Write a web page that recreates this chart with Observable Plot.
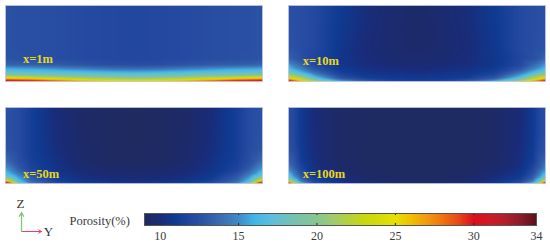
<!DOCTYPE html>
<html>
<head>
<meta charset="utf-8">
<script src="https://cdn.jsdelivr.net/npm/d3@7"></script>
<script src="https://cdn.jsdelivr.net/npm/@observablehq/plot@0.6"></script>
<style>
html,body{margin:0;padding:0;background:#fff;width:550px;height:245px;overflow:hidden}
#root{position:relative;width:550px;height:245px}
#root svg{display:block}
#legend{position:absolute;left:0;top:190px}
#triad{position:absolute;left:0;top:190px}
</style>
</head>
<body>
<div id="root"><div id="maps"></div><div id="legend"></div><div id="triad"></div></div>
<script>
// Porosity colour stops
const stopValues = [9,10,11,12,13,14,15,16,17,18,19,20,21,22,23,24,25,26,27,28,29,30,31,32,33,34];
const stopColors = ["#1e2a62","#1a2b78","#0f3b93","#2448a0","#2f5aa8","#3d70b4","#3f8ac8","#3fb6e8","#5bbde0","#6fc0c0","#7cc3a5","#88c690","#a0cb70","#b5d040","#c8d810","#d4dc0a","#e8e000","#f0c000","#f09a10","#ee7510","#e84a18","#dc0f1c","#cf1a26","#b0202c","#8a1c28","#5a1218"];

// Sampling positions across (half the section; the section is mirror-symmetric) and up the section
const across = [0,0.02,0.05,0.1,0.2,0.3,0.4,0.5];
const up = [0,0.015,0.04,0.08,0.12,0.17,0.22,0.3,0.45,0.7,1];

// Porosity (%) read from each section, bottom row first
const x1m = [
 [31.5,31.2,31,30.5,29.5,27.5,25.8,25],
 [30.5,30.2,30,29.5,27.5,25.5,24.5,24],
 [26,25.8,25.5,25,23.5,22,21,20.5],
 [20,20,19.8,19.5,19,18.7,18.3,18],
 [17.5,17.4,17.3,17.2,17,16.6,16.2,16],
 [15.8,15.7,15.6,15.5,15,14.5,14,13.8],
 [13.5,13.4,13.3,13.2,13,12.7,12.4,12.3],
 [12.6,12.6,12.5,12.4,12.3,12.1,12,11.9],
 [12.5,12.5,12.4,12.4,12.3,12.1,12,11.9],
 [12.5,12.5,12.4,12.4,12.3,12.1,12,11.9],
 [12.5,12.5,12.4,12.4,12.3,12.1,12,11.9]
];
const x10m = [
 [32,30,27.5,23,16.5,14,12.6,12.3],
 [30,28,25,20.5,15,12.6,11.6,11.3],
 [25.5,24,22,17.5,13,11.5,11,10.9],
 [21,20.5,18.5,15.5,12,11,10.8,10.6],
 [18.5,17.8,16.2,14,11.4,10.7,10.5,10.3],
 [16.5,15.5,14.5,12.6,11,10.4,10.2,10],
 [15.5,14.5,13.5,12,10.7,10.2,9.9,9.8],
 [13.5,13,12.4,11.8,10.7,10.1,9.7,9.6],
 [12.6,12.5,12.3,12,10.8,10,9.6,9.4],
 [12.5,12.4,12.3,12,10.9,10.1,9.6,9.3],
 [12.5,12.4,12.3,12,11,10.2,9.7,9.3]
];
const x50m = [
 [33,30,21,15,12.5,11.5,11.3,11.2],
 [31,27,18.5,14,12,11,10.6,10.5],
 [25,21,16.5,13.5,11.3,10.6,10.3,10.2],
 [20,18,15.5,13,11,10.3,10,9.9],
 [17.5,16,14.5,12.5,10.8,10.1,9.7,9.6],
 [16,15,13.5,11.8,10.6,9.9,9.5,9.4],
 [15,14.2,12.9,11.6,10.5,9.7,9.3,9.2],
 [13.8,13.2,12.4,11.4,10.4,9.5,9.1,9],
 [12.7,12.5,12.2,11.3,10.2,9.4,9,8.9],
 [12.5,12.4,12.2,11.3,10.1,9.3,9,8.9],
 [12.5,12.4,12.2,11.3,10,9.3,9,8.9]
];
const x100m = [
 [33,27,17,13,11,10,9.7,9.5],
 [30,22,15.5,12.2,10.7,9.8,9.5,9.3],
 [23,18,14,11.6,10.4,9.6,9.3,9.2],
 [18.5,15.8,13,11.1,10.1,9.4,9.1,9.1],
 [17,14.8,12.5,10.8,9.8,9.2,9,9],
 [15.5,14,12,10.5,9.6,9.1,9,9],
 [14.5,13.2,11.6,10.3,9.4,9,9,9],
 [13.5,12.8,11.2,10.2,9.3,9,9,9],
 [12.6,12.2,11,10.1,9.2,9,9,9],
 [12.3,12,10.9,10,9.2,9,9,9],
 [12.3,12,10.9,10,9.2,9,9,9]
];

const panelNames = ["x=1m","x=10m","x=50m","x=100m"];
const panelGrids = [x1m,x10m,x50m,x100m];
const panelColumns = ["left","right","left","right"];
const panelRows = ["top","top","bottom","bottom"];
const labelAcross = [0.068,0.055,0.068,0.055];
const labelUp = [0.30,0.275,0.13,0.13];

const colorTicks = [10,15,20,25,30,34];
const bandTicks = [10,15,20,25,30];

// Build tidy table, mirroring the half-section
const cells = [];
panelNames.forEach((name,p) => {
  panelGrids[p].forEach((row,r) => {
    row.forEach((v,c) => {
      const base = {col:panelColumns[p],row:panelRows[p],z:up[r],v};
      cells.push({...base,u:across[c]});
      if (across[c] < 0.5) cells.push({...base,u:1-across[c]});
    });
  });
});
const labels = panelNames.map((name,p)=>({name,col:panelColumns[p],row:panelRows[p],u:labelAcross[p],z:labelUp[p]}));

const color = {type:"linear",domain:stopValues,range:stopColors};

const maps = Plot.plot({
  width:550,height:190,
  marginLeft:4.3,marginRight:4.3,marginTop:4,marginBottom:6.7,
  x:{domain:[0,1],axis:null},
  y:{domain:[0,1],axis:null},
  fx:{domain:["left","right"],padding:0.0906,axis:null},
  fy:{domain:["top","bottom"],padding:0.2558,axis:null},
  color,
  marks:[
    Plot.raster(cells,{x:"u",y:"z",fill:"v",fx:"col",fy:"row",interpolate:"barycentric",pixelSize:1}),
    Plot.frame({stroke:"#bfc3e2",strokeWidth:0.8}),
    Plot.text(labels,{x:"u",y:"z",text:"name",fx:"col",fy:"row",textAnchor:"start",
      fill:"#e8d820",fontFamily:"Liberation Serif",fontWeight:"bold",fontSize:12.5,
      style:{letterSpacing:"0.5px"}})
  ]
});
document.getElementById("maps").append(maps);

const legend = Plot.plot({
  width:550,height:55,
  marginLeft:144,marginRight:14,marginTop:23,marginBottom:20,
  x:{domain:[9,34],axis:null},
  y:{domain:[0,1],axis:null},
  color,
  marks:[
    Plot.raster({fill:(x)=>x,x1:9,x2:34,y1:0,y2:1,width:392,height:1,imageRendering:"auto"}),
    Plot.ruleX(bandTicks,{y1:0,y2:0.17,stroke:"#1a2a30",strokeWidth:1}),
    Plot.ruleX(bandTicks,{y1:0.83,y2:1,stroke:"#1a2a30",strokeWidth:1}),
    Plot.frame({stroke:"#555",strokeWidth:1}),
    Plot.text(colorTicks,{x:d=>d,y:0,dy:11,text:d=>String(d),fill:"#3a3a3a",
      fontFamily:"Liberation Serif",fontSize:12,lineAnchor:"middle",
      style:{letterSpacing:"0.6px"}})
  ]
});
document.getElementById("legend").append(legend);

// Axis triad and colourbar caption
const triadOrigin = [{x:0,y:0}];
const triad = Plot.plot({
  width:140,height:55,
  marginLeft:21,marginRight:99,marginTop:22,marginBottom:14,
  x:{domain:[0,1],axis:null},
  y:{domain:[0,1],axis:null},
  style:{background:"transparent"},
  marks:[
    Plot.arrow(triadOrigin,{x1:"x",y1:"y",x2:1,y2:"y",stroke:"#e8406a",strokeWidth:1,headLength:5,bend:0}),
    Plot.arrow(triadOrigin,{x1:"x",y1:"y",x2:"x",y2:1,stroke:"#7cc87c",strokeWidth:1.3,headLength:5,bend:0}),
    Plot.text(["Z"],{x:0,y:1,dx:-1,dy:-9,text:d=>d,fill:"#333",fontFamily:"Liberation Serif",fontSize:13}),
    Plot.text(["Y"],{x:1,y:0,dx:7,text:d=>d,fill:"#333",fontFamily:"Liberation Serif",fontSize:13}),
    Plot.text(["Porosity(%)"],{x:2.4,y:0.53,text:d=>d,textAnchor:"start",fill:"#3a3a3a",
      fontFamily:"Liberation Serif",fontSize:12.5,style:{letterSpacing:"0.7px"}})
  ]
});
document.getElementById("triad").append(triad);
</script>
</body>
</html>
